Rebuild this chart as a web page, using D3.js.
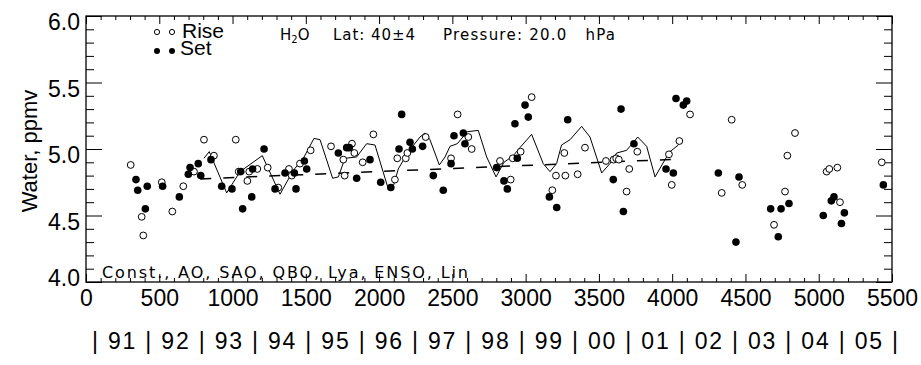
<!DOCTYPE html>
<html>
<head>
<meta charset="utf-8">
<script src="https://cdn.jsdelivr.net/npm/d3@7"></script>
<style>
  body { margin: 0; background: #fff; }
  svg { display: block; }
</style>
</head>
<body>
<svg id="chart" width="921" height="365"></svg>
<script>
// Sunrise occultations (open circles)
var riseX = [305, 380, 391, 517, 589, 664, 737, 805, 873, 1022, 1042, 1101, 1114, 1169, 1240,
  1312, 1385, 1404, 1460, 1533, 1672, 1756, 1765, 1815, 1831, 1888, 1961, 2108, 2124, 2182,
  2193, 2318, 2491, 2536, 2609, 2632, 2825, 2898, 2912, 2966, 3041, 3182, 3207, 3264, 3271,
  3355, 3405, 3548, 3600, 3618, 3636, 3689, 3707, 3762, 3978, 3997, 4049, 4122, 4338, 4406,
  4478, 4695, 4770, 4786, 4838, 5054, 5072, 5127, 5145, 5430];
var riseY = [4.88, 4.49, 4.35, 4.75, 4.53, 4.72, 4.83, 5.07, 4.95, 5.07, 4.83, 4.76, 4.83, 4.85, 4.86,
  4.71, 4.85, 4.80, 4.89, 4.99, 5.02, 4.92, 4.80, 5.04, 4.97, 4.90, 5.11, 4.77, 4.93, 4.93,
  4.97, 5.09, 4.93, 5.26, 5.09, 5.00, 4.91, 4.77, 4.93, 4.98, 5.39, 4.69, 4.80, 4.97, 4.80,
  4.81, 5.01, 4.91, 4.92, 4.93, 4.92, 4.68, 4.85, 4.98, 4.96, 4.73, 5.06, 5.26, 4.67, 5.22,
  4.73, 4.43, 4.68, 4.95, 5.12, 4.83, 4.85, 4.86, 4.60, 4.90];

// Sunset occultations (filled circles)
var setX = [341, 353, 405, 418, 523, 637, 698, 710, 766, 783, 853, 926, 996, 1056, 1069,
  1131, 1137, 1215, 1290, 1358, 1422, 1433, 1490, 1506, 1722, 1779, 1797, 1847, 1938, 2011,
  2080, 2136, 2154, 2211, 2227, 2297, 2370, 2438, 2491, 2511, 2575, 2586, 2802, 2852, 2875,
  2927, 2943, 2996, 3018, 3162, 3212, 3287, 3598, 3651, 3667, 3739, 3958, 4008, 4026, 4076,
  4099, 4315, 4435, 4456, 4672, 4724, 4743, 4797, 5031, 5086, 5104, 5155, 5175, 5441];
var setY = [4.77, 4.69, 4.55, 4.72, 4.72, 4.64, 4.81, 4.86, 4.89, 4.80, 4.92, 4.72, 4.70, 4.83, 4.55,
  4.64, 4.85, 5.00, 4.70, 4.82, 4.82, 4.70, 4.91, 4.85, 4.97, 5.01, 5.01, 4.78, 4.92, 4.75,
  4.71, 5.00, 5.26, 5.05, 5.00, 5.02, 4.80, 4.69, 4.89, 5.10, 5.12, 5.04, 4.86, 4.76, 4.70,
  5.19, 4.93, 5.33, 5.24, 4.64, 4.56, 5.22, 4.77, 5.30, 4.53, 5.04, 4.85, 4.82, 5.38, 5.33,
  5.36, 4.82, 4.30, 4.79, 4.55, 4.34, 4.55, 4.59, 4.50, 4.61, 4.64, 4.44, 4.52, 4.73];

// Regression fit (solid) and linear term (dashed)
var fitX = [805, 841, 960, 1051, 1203, 1324, 1415, 1483, 1556, 1597, 1683, 1722, 1767, 1847, 1915,
  1972, 2060, 2097, 2131, 2200, 2279, 2313, 2347, 2411, 2450, 2484, 2534, 2602, 2677, 2734,
  2798, 2852, 2916, 2961, 3041, 3120, 3166, 3211, 3245, 3303, 3382, 3439, 3519, 3575, 3621,
  3689, 3765, 3826, 3883, 3951, 3985, 4042, 4060];
var fitY = [4.93, 4.98, 4.67, 4.83, 4.95, 4.66, 4.84, 4.93, 5.08, 5.07, 4.78, 4.79, 4.93, 4.94, 5.04,
  5.03, 4.71, 4.72, 4.85, 4.98, 5.09, 5.12, 5.07, 4.88, 4.94, 5.02, 5.04, 5.13, 5.14, 4.94,
  4.79, 4.90, 4.95, 5.01, 5.11, 4.89, 4.83, 4.89, 5.03, 5.07, 5.17, 5.09, 4.82, 4.89, 4.97,
  4.99, 5.09, 5.02, 4.79, 4.92, 4.98, 5.03, 5.06];
var trendX = [780, 4070];
var trendY = [4.775, 4.925];

var xTicks = d3.range(0, 5501, 500);
var yTicks = [4.0, 4.5, 5.0, 5.5, 6.0];
var years = ["91", "92", "93", "94", "95", "96", "97", "98", "99", "00", "01", "02", "03", "04", "05"];

var svg = d3.select("#chart");
var pLeft = 86, pRight = 892, pTop = 16, pBottom = 282;

var x = d3.scaleLinear().domain([0, 5500]).range([pLeft, pRight]);
var y = d3.scaleLinear().domain([4, 6]).range([pBottom, pTop]);

var helv = "'Liberation Sans', Arial, Helvetica, sans-serif";
var thin = "'DejaVu Sans', sans-serif";

// axes: major + minor ticks pointing inward, labels on left/bottom only
function styleAxis(g) {
  g.select(".domain").remove();
  g.selectAll("line").attr("stroke", "#000").attr("stroke-width", 1);
}

var xMinor = d3.range(0, 5501, 100).filter(d => d % 500 !== 0);
var yMinor = d3.range(40, 61, 1).map(d => d / 10).filter(d => Math.round(d * 10) % 5 !== 0);

svg.append("g").attr("transform", `translate(0,${pBottom})`)
  .call(d3.axisBottom(x).tickValues(xTicks).tickFormat(d3.format("d")).tickSize(-8).tickPadding(8))
  .call(styleAxis)
  .call(g => g.selectAll("text").attr("font-family", helv).attr("font-size", 23).attr("fill", "#000"));
svg.append("g").attr("transform", `translate(0,${pBottom})`)
  .call(d3.axisBottom(x).tickValues(xMinor).tickFormat("").tickSize(-4)).call(styleAxis);
svg.append("g").attr("transform", `translate(0,${pTop})`)
  .call(d3.axisTop(x).tickValues(xTicks).tickFormat("").tickSize(-8)).call(styleAxis);
svg.append("g").attr("transform", `translate(0,${pTop})`)
  .call(d3.axisTop(x).tickValues(xMinor).tickFormat("").tickSize(-4)).call(styleAxis);

svg.append("g").attr("transform", `translate(${pLeft},0)`)
  .call(d3.axisLeft(y).tickValues(yTicks).tickFormat(d3.format(".1f")).tickSize(-16).tickPadding(6))
  .call(styleAxis)
  .call(g => g.selectAll("text").attr("font-family", helv).attr("font-size", 23).attr("fill", "#000")
    .attr("dy", d => d === 4 ? "0.15em" : "0.6em"));
svg.append("g").attr("transform", `translate(${pLeft},0)`)
  .call(d3.axisLeft(y).tickValues(yMinor).tickFormat("").tickSize(-8)).call(styleAxis);
svg.append("g").attr("transform", `translate(${pRight},0)`)
  .call(d3.axisRight(y).tickValues(yTicks).tickFormat("").tickSize(-16)).call(styleAxis);
svg.append("g").attr("transform", `translate(${pRight},0)`)
  .call(d3.axisRight(y).tickValues(yMinor).tickFormat("").tickSize(-8)).call(styleAxis);

// frame
svg.append("rect")
  .attr("x", pLeft).attr("y", pTop)
  .attr("width", pRight - pLeft).attr("height", pBottom - pTop)
  .attr("fill", "none").attr("stroke", "#000").attr("stroke-width", 1.3);

// y title
svg.append("text")
  .attr("transform", `translate(37,${(pTop + pBottom) / 2 + 2}) rotate(-90)`)
  .attr("text-anchor", "middle")
  .attr("font-family", helv).attr("font-size", 22)
  .text("Water, ppmv");

// year strip
svg.append("text")
  .attr("x", 92).attr("y", 349)
  .attr("font-family", helv).attr("font-size", 23)
  .attr("textLength", 806).attr("lengthAdjust", "spacing")
  .text("| " + years.join(" | ") + " |");

// lines
var line = d3.line().x(d => x(d[0])).y(d => y(d[1]));
svg.append("path")
  .datum(d3.zip(trendX, trendY))
  .attr("d", line)
  .attr("fill", "none").attr("stroke", "#000").attr("stroke-width", 1.5)
  .attr("stroke-dasharray", "11,12");
svg.append("path")
  .datum(d3.zip(fitX, fitY))
  .attr("d", line)
  .attr("fill", "none").attr("stroke", "#000").attr("stroke-width", 1);

// points
svg.append("g").selectAll("circle")
  .data(d3.zip(riseX, riseY))
  .join("circle")
  .attr("cx", d => x(d[0])).attr("cy", d => y(d[1])).attr("r", 3.4)
  .attr("fill", "#fff").attr("stroke", "#000").attr("stroke-width", 1);
svg.append("g").selectAll("circle")
  .data(d3.zip(setX, setY))
  .join("circle")
  .attr("cx", d => x(d[0])).attr("cy", d => y(d[1])).attr("r", 3.8)
  .attr("fill", "#000");

// legend
[157, 172].forEach(function(cx) {
  svg.append("circle").attr("cx", cx).attr("cy", 32).attr("r", 2.6)
    .attr("fill", "#fff").attr("stroke", "#000").attr("stroke-width", 1);
  svg.append("circle").attr("cx", cx).attr("cy", 51).attr("r", 3)
    .attr("fill", "#000");
});
svg.append("text").attr("x", 182).attr("y", 38)
  .attr("font-family", helv).attr("font-size", 21).text("Rise");
svg.append("text").attr("x", 180).attr("y", 55)
  .attr("font-family", helv).attr("font-size", 21).text("Set");

// header annotations
var h2o = svg.append("text").attr("x", 280).attr("y", 40)
  .attr("font-family", thin).attr("font-size", 15);
h2o.append("tspan").text("H");
h2o.append("tspan").attr("font-size", 10).attr("dy", 3).text("2");
h2o.append("tspan").attr("dy", -3).text("O");
svg.append("text").attr("x", 333).attr("y", 40)
  .attr("font-family", thin).attr("font-size", 15)
  .attr("textLength", 82).attr("lengthAdjust", "spacing")
  .text("Lat: 40\u00b14");
svg.append("text").attr("x", 443).attr("y", 40)
  .attr("font-family", thin).attr("font-size", 15)
  .attr("textLength", 172).attr("lengthAdjust", "spacing")
  .attr("xml:space", "preserve")
  .text("Pressure: 20.0   hPa");

svg.append("text").attr("x", 102).attr("y", 278)
  .attr("font-family", thin).attr("font-size", 16)
  .attr("textLength", 366).attr("lengthAdjust", "spacing")
  .text("Const., AO, SAO, QBO, Lya, ENSO, Lin");
</script>
</body>
</html>
